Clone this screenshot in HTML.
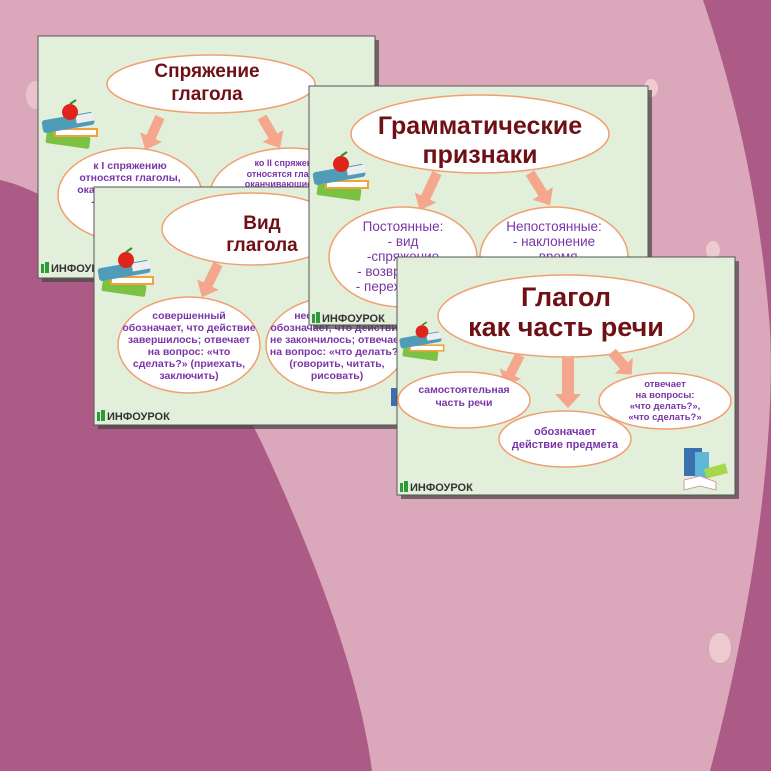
<!DOCTYPE html>
<html><head><meta charset="utf-8"><style>
html,body{margin:0;padding:0;width:771px;height:771px;overflow:hidden;background:#dba7ba}
svg{display:block}
.t{font-family:"Liberation Sans","DejaVu Sans",sans-serif;font-weight:bold;fill:#6e1016;text-anchor:middle}
.p{font-family:"Liberation Sans","DejaVu Sans",sans-serif;font-weight:bold;fill:#7a35a8;text-anchor:middle}
.lg{font-family:"Liberation Sans","DejaVu Sans",sans-serif;font-weight:bold;fill:#333}
</style></head><body>
<svg width="771" height="771" viewBox="0 0 771 771" xmlns="http://www.w3.org/2000/svg">
<defs>
<g id="books">
  <rect x="6" y="34" width="44" height="12" rx="2" fill="#7cc242" transform="rotate(8 28 40)"/>
  <rect x="14" y="28" width="44" height="9" fill="#f2a23a"/>
  <rect x="16" y="30" width="40" height="5" fill="#fff"/>
  <rect x="2" y="16" width="52" height="13" rx="3" fill="#4f9bb8" transform="rotate(-10 28 22)"/>
  <rect x="36" y="14" width="18" height="8" fill="#eee" transform="rotate(-10 45 18)"/>
  <circle cx="30" cy="12" r="8" fill="#e0241b"/>
  <path d="M30 4 l6 -4" stroke="#3a8a2a" stroke-width="2"/>
</g>
<g id="logo">
  <rect x="0" y="2" width="3" height="9" fill="#2e9a3a"/>
  <rect x="4" y="0" width="4" height="11" fill="#2e9a3a"/>
</g>
</defs>

<!-- background shapes -->
<path d="M0 180 C90 200 210 330 265 450 C320 570 360 680 372 771 L0 771 Z" fill="#ab5b85"/>
<path d="M703 0 C730 80 760 190 770 330 C776 450 750 620 710 771 L771 771 L771 0 Z" fill="#ab5b85"/>
<ellipse cx="35" cy="95" rx="9" ry="14" fill="#ecc9cf" opacity=".8"/>
<ellipse cx="651" cy="88" rx="7" ry="9" fill="#f2d5d5" opacity=".8"/>
<ellipse cx="713" cy="250" rx="7" ry="9" fill="#f2d5d5" opacity=".8"/>
<ellipse cx="720" cy="648" rx="11" ry="15" fill="#f2d5d5" opacity=".8"/>

<!-- Slide A -->
<rect x="42" y="40" width="337" height="242" fill="#444" opacity=".7"/>
<rect x="38" y="36" width="337" height="242" fill="#e2efda" stroke="#555" stroke-width="1"/>
<use href="#books" x="40" y="100"/>
<ellipse cx="211" cy="84" rx="104" ry="29" fill="#fff" stroke="#f0a070" stroke-width="1.5"/>
<text class="t" x="207" y="77" font-size="19">Спряжение</text>
<text class="t" x="207" y="100" font-size="19">глагола</text>
<path d="M-5 0 L5 0 L5 22 L12 22 L0 36 L-12 22 L-5 22 Z" fill="#f4a78c" transform="translate(160,117) rotate(24)"/>
<path d="M-5 0 L5 0 L5 22 L12 22 L0 36 L-12 22 L-5 22 Z" fill="#f4a78c" transform="translate(262,117) rotate(-30)"/>
<ellipse cx="130" cy="195" rx="72" ry="47" fill="#fff" stroke="#f0a070" stroke-width="1.5"/>
<text class="p" font-size="10.5"><tspan x="130" y="169">к I спряжению</tspan><tspan x="130" y="181">относятся глаголы,</tspan><tspan x="130" y="193">оканчивающиеся на</tspan><tspan x="130" y="205">-ать, -ять, -еть,</tspan><tspan x="130" y="217">-уть и</tspan><tspan x="130" y="229">исключения</tspan></text>
<ellipse cx="290" cy="195" rx="80" ry="47" fill="#fff" stroke="#f0a070" stroke-width="1.5"/>
<text class="p" font-size="9"><tspan x="290" y="166">ко II спряжению</tspan><tspan x="290" y="177">относятся глаголы,</tspan><tspan x="290" y="187">оканчивающиеся на</tspan></text>
<use href="#logo" x="41" y="262"/>
<text class="lg" x="51" y="272" font-size="11">ИНФОУРОК</text>

<!-- Slide B -->
<rect x="98" y="191" width="316" height="238" fill="#444" opacity=".7"/>
<rect x="94" y="187" width="316" height="238" fill="#e2efda" stroke="#555" stroke-width="1"/>
<use href="#books" x="96" y="248"/>
<ellipse cx="252" cy="229" rx="90" ry="36" fill="#fff" stroke="#f0a070" stroke-width="1.5"/>
<text class="t" x="262" y="229" font-size="19">Вид</text>
<text class="t" x="262" y="251" font-size="19">глагола</text>
<path d="M-5 0 L5 0 L5 23 L12 23 L0 37 L-12 23 L-5 23 Z" fill="#f4a78c" transform="translate(218,264) rotate(26)"/>
<ellipse cx="189" cy="345" rx="71" ry="48" fill="#fff" stroke="#f0a070" stroke-width="1.5"/>
<text class="p" font-size="10.5"><tspan x="189" y="319">совершенный</tspan><tspan x="189" y="331">обозначает, что действие</tspan><tspan x="189" y="343">завершилось; отвечает</tspan><tspan x="189" y="355">на вопрос: «что</tspan><tspan x="189" y="367">сделать?» (приехать,</tspan><tspan x="189" y="379">заключить)</tspan></text>
<ellipse cx="336" cy="345" rx="70" ry="48" fill="#fff" stroke="#f0a070" stroke-width="1.5"/>
<text class="p" font-size="10.5"><tspan x="337" y="319">несовершенный</tspan><tspan x="337" y="331">обозначает, что действие</tspan><tspan x="337" y="343">не закончилось; отвечает</tspan><tspan x="337" y="355">на вопрос: «что делать?»</tspan><tspan x="337" y="367">(говорить, читать,</tspan><tspan x="337" y="379">рисовать)</tspan></text>
<rect x="391" y="388" width="6" height="18" fill="#3a6fb0"/>
<use href="#logo" x="97" y="410"/>
<text class="lg" x="107" y="420" font-size="11">ИНФОУРОК</text>

<!-- Slide C -->
<rect x="313" y="90" width="339" height="239" fill="#444" opacity=".7"/>
<rect x="309" y="86" width="339" height="239" fill="#e2efda" stroke="#555" stroke-width="1"/>
<use href="#books" x="311" y="152"/>
<ellipse cx="480" cy="134" rx="129" ry="39" fill="#fff" stroke="#f0a070" stroke-width="1.5"/>
<text class="t" x="480" y="134" font-size="25">Грамматические</text>
<text class="t" x="480" y="163" font-size="25">признаки</text>
<path d="M-5 0 L5 0 L5 27 L12 27 L0 41 L-12 27 L-5 27 Z" fill="#f4a78c" transform="translate(437,173) rotate(25)"/>
<path d="M-5 0 L5 0 L5 24 L12 24 L0 38 L-12 24 L-5 24 Z" fill="#f4a78c" transform="translate(530,173) rotate(-32)"/>
<ellipse cx="403" cy="257" rx="74" ry="50" fill="#fff" stroke="#f0a070" stroke-width="1.5"/>
<text class="p" font-size="13.5" style="font-weight:normal"><tspan x="403" y="231">Постоянные:</tspan><tspan x="403" y="246">- вид</tspan><tspan x="403" y="261">-спряжение</tspan><tspan x="403" y="276">- возвратность</tspan><tspan x="403" y="291">- переходность</tspan></text>
<ellipse cx="554" cy="257" rx="74" ry="50" fill="#fff" stroke="#f0a070" stroke-width="1.5"/>
<text class="p" font-size="13.5" style="font-weight:normal"><tspan x="554" y="231">Непостоянные:</tspan><tspan x="554" y="246">- наклонение</tspan><tspan x="554" y="261">- время</tspan></text>
<use href="#logo" x="312" y="312"/>
<text class="lg" x="322" y="322" font-size="11">ИНФОУРОК</text>

<!-- Slide D -->
<rect x="401" y="261" width="338" height="238" fill="#444" opacity=".7"/>
<rect x="397" y="257" width="338" height="238" fill="#e2efda" stroke="#555" stroke-width="1"/>
<use href="#books" transform="translate(398 322) scale(.8)"/>
<ellipse cx="566" cy="316" rx="128" ry="41" fill="#fff" stroke="#f0a070" stroke-width="1.5"/>
<text class="t" x="566" y="306" font-size="27">Глагол</text>
<text class="t" x="566" y="336" font-size="27">как часть речи</text>
<path d="M-5 0 L5 0 L5 21 L12 21 L0 34 L-12 21 L-5 21 Z" fill="#f4a78c" transform="translate(520,355) rotate(27)"/>
<path d="M-6 0 L6 0 L6 37 L13 37 L0 51 L-13 37 L-6 37 Z" fill="#f4a78c" transform="translate(568,357)"/>
<path d="M-5 0 L5 0 L5 18 L12 18 L0 30 L-12 18 L-5 18 Z" fill="#f4a78c" transform="translate(612,352) rotate(-41)"/>
<ellipse cx="464" cy="400" rx="66" ry="28" fill="#fff" stroke="#f0a070" stroke-width="1.5"/>
<text class="p" font-size="10.5"><tspan x="464" y="393">самостоятельная</tspan><tspan x="464" y="406">часть речи</tspan></text>
<ellipse cx="665" cy="401" rx="66" ry="28" fill="#fff" stroke="#f0a070" stroke-width="1.5"/>
<text class="p" font-size="9.5"><tspan x="665" y="387">отвечает</tspan><tspan x="665" y="398">на вопросы:</tspan><tspan x="665" y="409">«что делать?»,</tspan><tspan x="665" y="420">«что сделать?»</tspan></text>
<ellipse cx="565" cy="439" rx="66" ry="28" fill="#fff" stroke="#f0a070" stroke-width="1.5"/>
<text class="p" font-size="11"><tspan x="565" y="435">обозначает</tspan><tspan x="565" y="448">действие предмета</tspan></text>
<rect x="684" y="448" width="18" height="28" fill="#3a6fb0"/>
<rect x="695" y="452" width="14" height="26" fill="#5fb8d8"/>
<rect x="705" y="466" width="22" height="10" fill="#a8d84a" transform="rotate(-15 716 471)"/>
<path d="M684 480 L700 476 L716 482 L716 490 L700 486 L684 490 Z" fill="#fff" stroke="#c88" stroke-width=".8"/>
<use href="#logo" x="400" y="481"/>
<text class="lg" x="410" y="491" font-size="11">ИНФОУРОК</text>
</svg>
</body></html>
